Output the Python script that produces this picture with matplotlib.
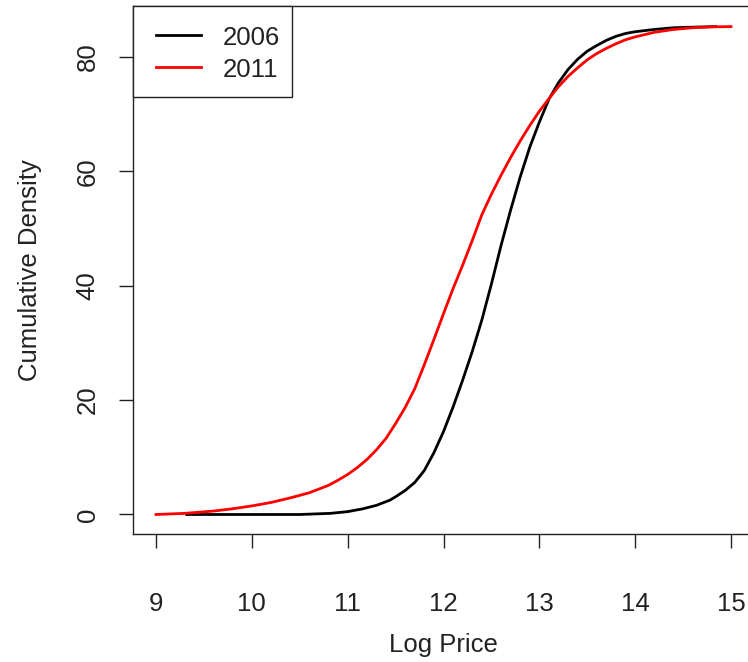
import matplotlib
matplotlib.use("Agg")
import matplotlib.pyplot as plt
from matplotlib.patches import Rectangle
from matplotlib.lines import Line2D

plt.rcParams["font.family"] = ["Liberation Sans", "DejaVu Sans"]

# Cumulative density of log price, two survey years
x_2006 = [9.32, 10.0, 10.5, 10.82, 11.0, 11.16, 11.3, 11.44, 11.5, 11.6, 11.7, 11.8,
          11.9, 12.0, 12.1, 12.2, 12.3, 12.4, 12.5, 12.6, 12.7, 12.8, 12.9, 13.0,
          13.1, 13.2, 13.3, 13.4, 13.5, 13.6, 13.7, 13.8, 13.9, 14.0, 14.2, 14.4,
          14.6, 14.84]
y_2006 = [0.0, 0.0, 0.0, 0.2, 0.5, 1.0, 1.6, 2.5, 3.1, 4.2, 5.6, 7.7,
          10.8, 14.5, 18.8, 23.5, 28.5, 34.0, 40.3, 47.0, 53.2, 59.0, 64.2, 68.6,
          72.6, 75.5, 77.8, 79.6, 81.0, 82.0, 82.9, 83.6, 84.1, 84.4, 84.8, 85.1,
          85.2, 85.3]

x_2011 = [9.0, 9.3, 9.6, 9.8, 10.0, 10.2, 10.4, 10.6, 10.8, 10.9, 11.0, 11.1,
          11.2, 11.3, 11.4, 11.5, 11.6, 11.7, 11.8, 11.9, 12.0, 12.1, 12.2, 12.3,
          12.4, 12.5, 12.6, 12.7, 12.8, 12.9, 13.0, 13.1, 13.2, 13.3, 13.4, 13.5,
          13.6, 13.7, 13.8, 13.9, 14.0, 14.2, 14.4, 14.6, 14.8, 15.0]
y_2011 = [0.0, 0.2, 0.6, 1.0, 1.5, 2.1, 2.9, 3.8, 5.1, 6.0, 7.0, 8.2,
          9.6, 11.3, 13.3, 15.9, 18.7, 22.0, 26.2, 30.6, 35.1, 39.5, 43.6, 47.9,
          52.4, 56.0, 59.3, 62.4, 65.3, 68.0, 70.5, 72.7, 74.8, 76.6, 78.1, 79.5,
          80.6, 81.5, 82.3, 83.0, 83.5, 84.3, 84.8, 85.1, 85.25, 85.3]

x_ticks = [9, 10, 11, 12, 13, 14, 15]
y_ticks = [0, 20, 40, 60, 80]
series_labels = ["2006", "2011"]
series_colors = ["black", "#ff0000"]

FS = 18.5

fig = plt.figure(figsize=(7.48, 6.62), dpi=100)
ax = fig.add_axes([133 / 748, 128 / 662, 621 / 748, 528 / 662])

ax.plot(x_2006, y_2006, color=series_colors[0], lw=2.0)
ax.plot(x_2011, y_2011, color=series_colors[1], lw=2.0)

ax.set_xlim(8.76, 15.24)
ax.set_ylim(-3.41, 88.9)
ax.set_xticks(x_ticks)
ax.set_yticks(y_ticks)
ax.tick_params(axis="both", direction="out", length=10, width=1, colors="#222222",
               labelcolor="#222222", labelsize=FS)
ax.tick_params(axis="x", pad=32)
ax.tick_params(axis="y", pad=14)
for lab in ax.get_yticklabels():
    lab.set_rotation(90)
    lab.set_va("center")

for sp in ax.spines.values():
    sp.set_linewidth(1.0)
    sp.set_color("#222222")

ax.set_xlabel("Log Price", fontsize=FS, labelpad=12, color="#222222")
ax.set_ylabel("Cumulative Density", fontsize=FS, labelpad=24, color="#222222")

# Legend box in the top-left corner, drawn in axes coordinates
ax.add_patch(Rectangle((0, 0.8277), 0.256, 0.1723, transform=ax.transAxes,
                       facecolor="white", edgecolor="#222222", lw=1.0,
                       zorder=5, clip_on=False))
for i, (lab, col) in enumerate(zip(series_labels, series_colors)):
    yy = 0.945 - i * 0.0606
    ax.add_line(Line2D([0.037, 0.1095], [yy, yy], transform=ax.transAxes,
                       color=col, lw=2.0, zorder=6))
    ax.text(0.1449, yy - 0.005, lab, transform=ax.transAxes, fontsize=FS,
            va="center", ha="left", color="#222222", zorder=6)

fig.savefig("out.png", dpi=100)
